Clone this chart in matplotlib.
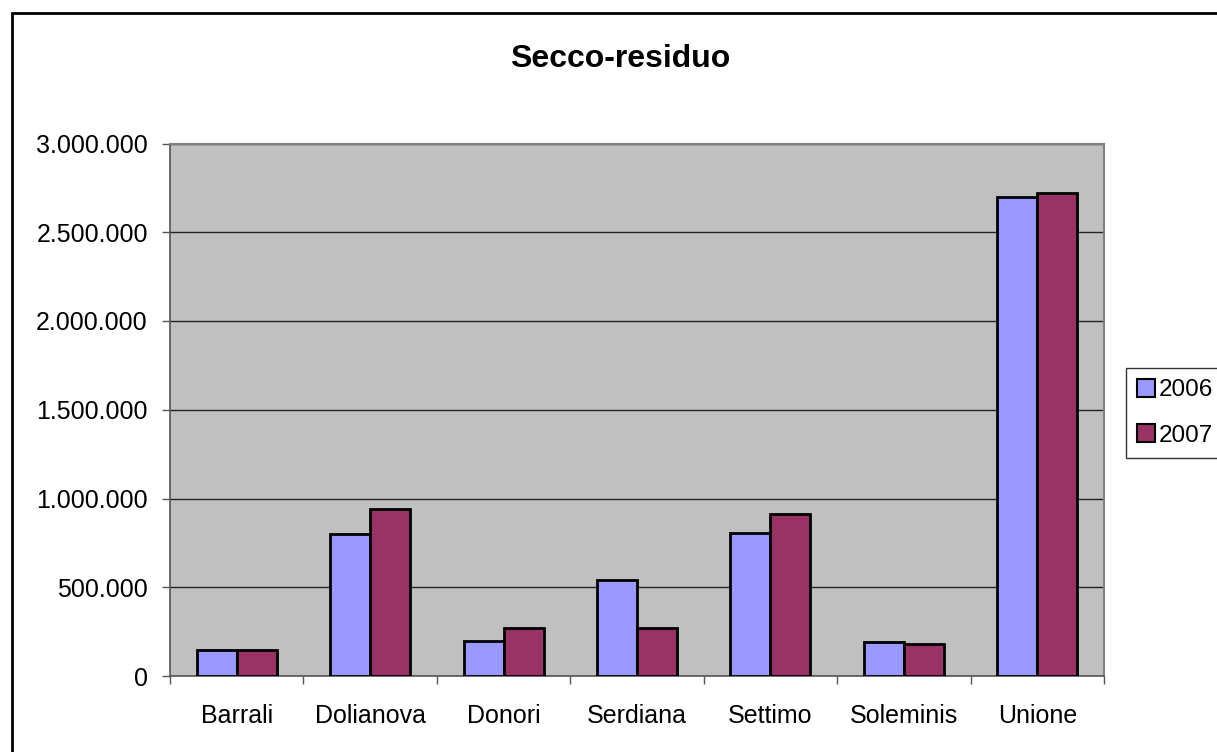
import numpy as np
import matplotlib
matplotlib.use("Agg")
import matplotlib.pyplot as plt
from matplotlib.patches import Rectangle
from matplotlib.ticker import FuncFormatter, FixedLocator

plt.rcParams['font.family'] = ['Liberation Sans', 'DejaVu Sans']

comuni = ['Barrali', 'Dolianova', 'Donori', 'Serdiana', 'Settimo', 'Soleminis', 'Unione']
anni = ['2006', '2007']
v2006 = [145000, 798000, 200000, 539000, 807000, 189000, 2697000]
v2007 = [145000, 942000, 270000, 270000, 910000, 180000, 2719000]
colori = ['#9999FF', '#993366']

W, H = 1217, 752
fig = plt.figure(figsize=(W / 100, H / 100), dpi=100)
fig.patch.set_facecolor('white')

# outer chart border (right/bottom edges fall outside the picture)
fig.patches.append(Rectangle((12 / W, 1 - 1000 / H), 2000 / W, (1000 - 13) / H,
                             transform=fig.transFigure, fill=False,
                             edgecolor='black', linewidth=2))

ax = fig.add_axes([170 / W, 1 - 676 / H, (1104 - 170) / W, (676 - 143.5) / H])
ax.set_facecolor('#C0C0C0')

x = np.arange(len(comuni))
w = 0.3
for i, (vals, lab) in enumerate(zip([v2006, v2007], anni)):
    ax.bar(x + (i - 0.5) * w, vals, width=w, color=colori[i], edgecolor='black',
           linewidth=2, label=lab, zorder=3)

ax.set_xlim(-0.5, len(comuni) - 0.5)
ax.set_ylim(0, 3000000)
ax.set_yticks(np.arange(0, 3000001, 500000))
ax.yaxis.set_major_formatter(FuncFormatter(lambda v, p: f"{int(v):,}".replace(',', '.')))
ax.grid(axis='y', color='#222222', linewidth=1, zorder=1)

ax.set_xticks(x)
ax.set_xticklabels(comuni)
ax.xaxis.set_minor_locator(FixedLocator(np.arange(-0.5, len(comuni), 1)))
ax.tick_params(axis='x', which='major', length=0, pad=20, labelsize=18)
ax.tick_params(axis='x', which='minor', length=6, width=1, color='#555555', direction='out')
ax.tick_params(axis='y', length=6, width=1, color='#555555', direction='out', pad=10, labelsize=18)

for s in ['top', 'right']:
    ax.spines[s].set_color('#808080')
    ax.spines[s].set_linewidth(1.5)
for s in ['left', 'bottom']:
    ax.spines[s].set_color('#555555')
    ax.spines[s].set_linewidth(1.2)

fig.text(620 / W, 1 - 59 / H, 'Secco-residuo', ha='center', va='center',
         fontsize=23, fontweight='bold')

leg = fig.legend(loc='upper left', bbox_to_anchor=(1126 / W, 1 - 368 / H),
                 fontsize=17.5, frameon=True, fancybox=False, edgecolor='black',
                 handlelength=0.75, handleheight=0.75, handletextpad=0.15,
                 borderpad=0.45, labelspacing=0.95, borderaxespad=0)
leg.get_frame().set_linewidth(1)
for p in leg.get_patches():
    p.set_linewidth(1.5)

fig.savefig('out.png', dpi=100)
